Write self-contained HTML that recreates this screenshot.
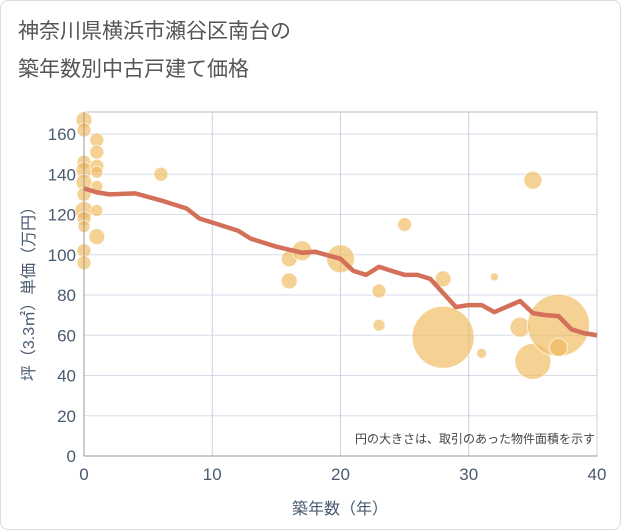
<!DOCTYPE html>
<html><head><meta charset="utf-8"><style>
body{margin:0;background:#fff;font-family:"Liberation Sans","Noto Sans CJK JP",sans-serif}
#wrap{position:relative;width:619px;height:528px;border:1px solid #ddd;border-radius:8px;overflow:hidden}
</style></head><body>
<div id="wrap">
<svg id="c" width="621" height="530" style="position:absolute;left:-1px;top:-1px">
<text x="18" y="38" font-size="21" fill="#555">神奈川県横浜市瀬谷区南台の</text>
<text x="18" y="76" font-size="21" fill="#555">築年数別中古戸建て価格</text>
<g id="grid"></g><g id="bub"></g><g id="ln"></g><g id="ax"></g>
<text x="595" y="443" font-size="12" fill="#444" text-anchor="end">円の大きさは、取引のあった物件面積を示す</text>
<text x="340" y="514" font-size="16" fill="#4a5a70" text-anchor="middle">築年数（年）</text>
<text transform="translate(34,290) rotate(-90)" font-size="16" fill="#4a5a70" text-anchor="middle">坪（3.3㎡）単価（万円）</text>
</svg></div>
<script>
const xTicks=[0,10,20,30,40];
const yTicks=[0,20,40,60,80,100,120,140,160];
const lineYears=[0,1,2,4,6,8,9,12,13,15,17,18,20,21,22,23,25,26,27,28,29,30,31,32,34,35,36,37,38,39,40];
const lineValues=[133,131,130,130.5,127,123,118,112,108,104,101,101.5,98,92,90,94,90,90,88,81,74,75,75,71.5,77,71,70,69.5,63,61,60];
const bubYears=[0,0,0,0,0,0,0,0,0,0,0,1,1,1,1,1,1,1,6,16,16,17,20,23,23,25,28,28,31,32,34,35,35,37,37];
const bubValues=[167,162,146,142,136,130,122,118,114,102,96,157,151,144,141,134,122,109,140,98,87,102,98,82,65,115,88,59,51,89,64,137,47,65,54];
const bubSizes=[8,7,7,8,8,7,9,7,6,7,7,7,7,7,6,6,6,8,7,8,8,10,14,7,6,7,8,31,5,4,10,9,18,31,9];
const L=84,R=597,T=112,B=456;
const X=v=>L+(v-0)/40*(R-L);
const Y=v=>B-v/160*(B-134);
const NS="http://www.w3.org/2000/svg";
function mk(t,a,p){const e=document.createElementNS(NS,t);for(const k in a)e.setAttribute(k,a[k]);p.appendChild(e);return e;}
const g=document.getElementById('grid'),ax=document.getElementById('ax');
const bg=mk('rect',{x:L,y:T,width:R-L,height:B-T,fill:'#fff',stroke:'#bbb'},g);


yTicks.forEach(v=>{const l=mk('line',{x1:L,x2:R,y1:Y(v),y2:Y(v),stroke:'#d5dde8'},g);


const t=mk('text',{x:L-8,y:Y(v)+6,'font-size':17,fill:'#4a5a70','text-anchor':'end'},ax);t.textContent=v;

});
xTicks.forEach(v=>{const l=mk('line',{x1:X(v),x2:X(v),y1:T,y2:B,stroke:'#c8d2de'},g);


const t=mk('text',{x:X(v),y:B+24,'font-size':17,fill:'#4a5a70','text-anchor':'middle'},ax);t.textContent=v;

});
const a1=mk('line',{x1:L,x2:L,y1:T,y2:B,stroke:'#999'},ax);


const a2=mk('line',{x1:L,x2:R,y1:B,y2:B,stroke:'#999'},ax);


const bb=document.getElementById('bub');
bubYears.forEach((yr,i)=>{const c=mk('circle',{cx:X(yr),cy:Y(bubValues[i]),r:bubSizes[i],fill:'rgba(240,185,90,0.65)',stroke:'rgba(255,255,255,0.7)','stroke-width':1},bb);

});
const p=mk('polyline',{points:lineYears.map((y,i)=>X(y)+','+Y(lineValues[i])).join(' '),fill:'none',stroke:'#d4705a','stroke-width':4.5,'stroke-linejoin':'round'},document.getElementById('ln'));


</script></body></html>
